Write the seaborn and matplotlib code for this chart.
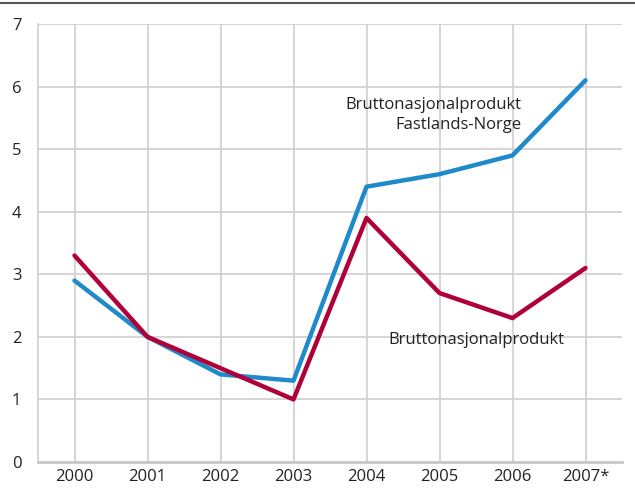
import matplotlib
matplotlib.use("Agg")
import matplotlib.pyplot as plt
import seaborn as sns
import pandas as pd
import matplotlib.lines as mlines

years = ["2000", "2001", "2002", "2003", "2004", "2005", "2006", "2007*"]
fastland = [2.9, 2.0, 1.4, 1.3, 4.4, 4.6, 4.9, 6.1]
bnp = [3.3, 2.0, 1.5, 1.0, 3.9, 2.7, 2.3, 3.1]
yticks = [0, 1, 2, 3, 4, 5, 6, 7]

sns.set_theme(style="white")
plt.rcParams['font.family'] = ['Open Sans', 'DejaVu Sans']

df = pd.DataFrame({
    "x": list(range(len(years))) * 2,
    "value": fastland + bnp,
    "series": ["Bruttonasjonalprodukt Fastlands-Norge"] * len(years) + ["Bruttonasjonalprodukt"] * len(years),
})

fig = plt.figure(figsize=(6.35, 4.93), dpi=100)
ax = fig.add_axes([38/635, 1 - 462/493, (622-38)/635, (462-24)/493])

sns.lineplot(data=df, x="x", y="value", hue="series",
             palette={"Bruttonasjonalprodukt Fastlands-Norge": "#1f8ac9",
                      "Bruttonasjonalprodukt": "#b0003a"},
             linewidth=3.2, legend=False, ax=ax, zorder=3)

ax.set_xlim(-0.5, 7.5)
ax.set_ylim(0, 7)
ax.set_xticks(range(len(years)))
ax.set_xticklabels(years)
ax.set_yticks(yticks)
ax.set_yticklabels([str(t) for t in yticks])
ax.set_xlabel("")
ax.set_ylabel("")
ax.grid(True, color="#d2d2d2", linewidth=1.3)
ax.set_axisbelow(True)
for s in ["top", "right"]:
    ax.spines[s].set_visible(False)
ax.spines["left"].set_color("#d2d2d2")
ax.spines["left"].set_linewidth(1.3)
ax.spines["bottom"].set_color("#c8c8c8")
ax.spines["bottom"].set_linewidth(2)
ax.tick_params(axis="both", length=0, labelsize=12, colors="#222222", pad=5)
ax.tick_params(axis="y", pad=12)

ax.text(6.12, 5.55, "Bruttonasjonalprodukt\nFastlands-Norge", ha="right", va="center",
        fontsize=12, color="#222222", linespacing=1.3)
ax.text(5.51, 1.95, "Bruttonasjonalprodukt", ha="center", va="center",
        fontsize=12, color="#222222")

fig.add_artist(mlines.Line2D([0, 1], [1 - 3/493, 1 - 3/493], color="#555555", linewidth=1.5,
                             transform=fig.transFigure))

fig.savefig("out.png", dpi=100)
